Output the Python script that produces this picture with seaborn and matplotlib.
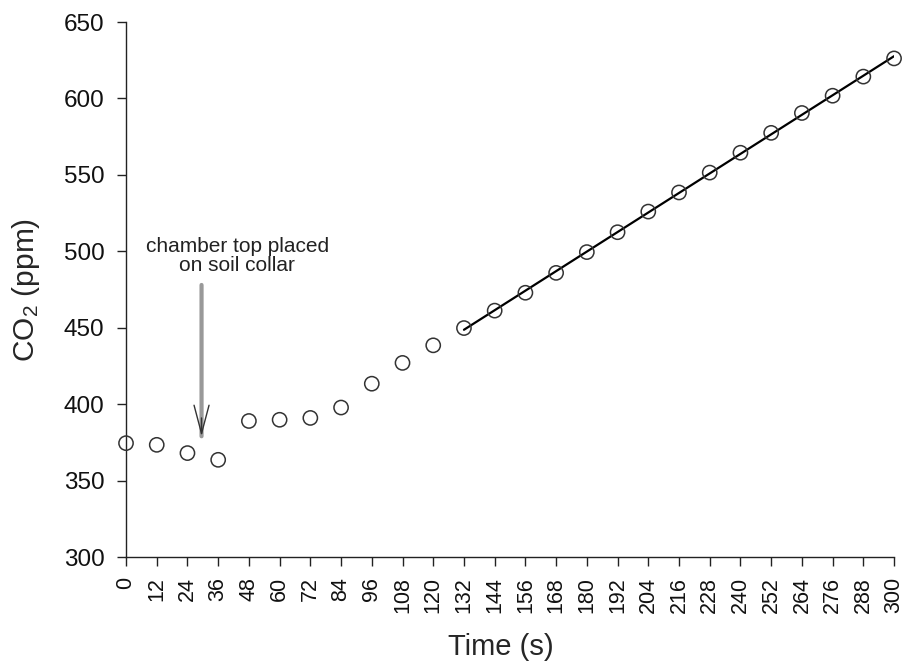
import matplotlib
matplotlib.use("Agg")
import matplotlib.pyplot as plt
import seaborn as sns
import numpy as np
import pandas as pd

time_s = [0, 12, 24, 36, 48, 60, 72, 84, 96, 108, 120, 132, 144, 156, 168, 180,
          192, 204, 216, 228, 240, 252, 264, 276, 288, 300]
co2_ppm = [374.5, 373.4, 368, 363.6, 389, 389.8, 391, 397.8, 413.4, 427, 438.5,
           449.8, 461.2, 472.9, 485.9, 499.5, 512.5, 526, 538.5, 551.5, 564.5,
           577.5, 590.5, 601.8, 614.3, 626.2]
fit_start = 132
annotation = "chamber top placed\non soil collar"
arrow_x = 29.5
arrow_tail_y = 478
arrow_head_y = 379
text_x = 43.5
text_y = 497

df = pd.DataFrame({"time": time_s, "co2": co2_ppm})
fit_df = df[df["time"] >= fit_start]

sns.set_theme(style="ticks")
plt.rcParams["font.family"] = ["Liberation Sans", "DejaVu Sans"]
plt.rcParams["mathtext.fontset"] = "custom"
plt.rcParams["mathtext.rm"] = "Liberation Sans"
plt.rcParams["mathtext.it"] = "Liberation Sans:italic"

fig = plt.figure(figsize=(9.04, 6.64), dpi=100)
ax = fig.add_axes([0.1394, 0.1611, 0.8496, 0.8057])

sns.regplot(data=fit_df, x="time", y="co2", scatter=False, ci=None, truncate=True,
            line_kws=dict(color="black", lw=1.6, zorder=2), ax=ax)
sns.scatterplot(data=df, x="time", y="co2", marker="o", s=105, facecolor="none",
                edgecolor="#333333", linewidth=1.1, zorder=3, clip_on=False, ax=ax)

ax.annotate("", xy=(arrow_x, arrow_head_y), xytext=(arrow_x, arrow_tail_y),
            arrowprops=dict(arrowstyle="-", color="#999999", lw=3, shrinkA=0, shrinkB=0))
ax.annotate("", xy=(arrow_x, arrow_head_y), xytext=(arrow_x, arrow_head_y + 12),
            arrowprops=dict(arrowstyle="->,head_length=1.7,head_width=0.45", color="#333333",
                            lw=1.0, shrinkA=0, shrinkB=0))
ax.text(text_x, text_y, annotation, ha="center", va="center", fontsize=15,
        color="#222222", linespacing=1.0)

ax.set_xlim(0, 300)
ax.set_ylim(300, 650)
ax.set_xticks(time_s)
ax.set_xticklabels([str(t) for t in time_s], rotation=90, fontsize=15.5)
ax.set_yticks(np.arange(300, 651, 50))
ax.tick_params(axis="y", labelsize=17.5, pad=9)
ax.tick_params(axis="x", pad=8)
ax.tick_params(direction="out", length=6.5, width=1, colors="#222222", labelcolor="#111111")
ax.set_xlabel("Time (s)", fontsize=21)
ax.set_ylabel("CO$_2$ (ppm)", fontsize=21.5)
ax.xaxis.set_label_coords(0.488, -0.142)
ax.yaxis.set_label_coords(-0.109, 0.5)
sns.despine(ax=ax)
for sp in ["left", "bottom"]:
    ax.spines[sp].set_color("#222222")
    ax.spines[sp].set_linewidth(1.0)

fig.savefig("out.png", dpi=100)
